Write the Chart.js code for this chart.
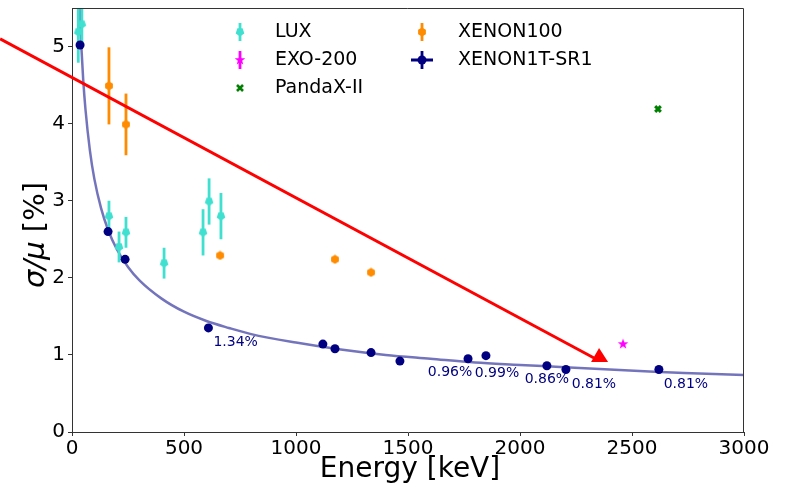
<!DOCTYPE html>
<html>
<head>
<meta charset="utf-8">
<script src="https://cdn.jsdelivr.net/npm/chart.js@4"></script>
<style>
html,body{margin:0;padding:0;background:#fff;}
canvas{display:block;}
</style>
</head>
<body>
<canvas id="c" width="786" height="492"></canvas>
<script>
// ---- data ----
const luxE   = [28, 44, 165, 210, 241, 411, 585, 612, 665];
const luxRes = [5.19, 5.29, 2.80, 2.40, 2.59, 2.19, 2.59, 2.99, 2.80];
const luxErr = [0.40, 0.30, 0.20, 0.20, 0.20, 0.20, 0.30, 0.30, 0.30];

const x100E   = [165, 241, 661, 1174, 1335];
const x100Res = [4.49, 3.99, 2.29, 2.24, 2.07];
const x100Err = [0.50, 0.40, 0.03, 0.03, 0.03];

const exoE   = [2460];
const exoRes = [1.14];

const pandaE   = [2616];
const pandaRes = [4.19];

const x1tE   = [36, 161, 237, 609, 1120, 1174, 1335, 1464, 1768, 1848, 2120, 2205, 2620];
const x1tRes = [5.02, 2.60, 2.24, 1.35, 1.14, 1.08, 1.03, 0.92, 0.95, 0.99, 0.86, 0.81, 0.81];

const fitE   = [33, 35, 40, 50, 60, 80, 100, 130, 160, 200, 250, 300, 400, 500, 600, 700, 800, 1000, 1200, 1400, 1600, 1800, 2000, 2200, 2400, 2600, 2800, 3000];
const fitRes = [5.6, 5.43, 5.09, 4.57, 4.19, 3.65, 3.28, 2.90, 2.63, 2.37, 2.14, 1.97, 1.73, 1.56, 1.44, 1.35, 1.27, 1.16, 1.07, 1.00, 0.95, 0.90, 0.87, 0.84, 0.81, 0.78, 0.76, 0.74];

// labelled XENON1T points (index into x1t arrays) and their texts
const annIdx   = [3, 8, 9, 10, 11, 12];
const annTexts = ["1.34%", "0.96%", "0.99%", "0.86%", "0.81%", "0.81%"];

// red arrow (data coordinates): tail and tip
const arrowTail = [-321, 5.10];
const arrowTip  = [2353, 1.09];

const xTicks = [0, 500, 1000, 1500, 2000, 2500, 3000];
const yTicks = [0, 1, 2, 3, 4, 5];

// ---- styling / layout (not data) ----
const FONT = "'DejaVu Sans', sans-serif";
const annOffsets = [[5, 14, 'left'], [-18, 14, 'center'], [11, 18, 'center'], [0, 14, 'center'], [28, 15, 'center'], [27, 15, 'center']];

function makeMarker(kind, color, size) {
  const c = document.createElement('canvas');
  c.width = size; c.height = size;
  const g = c.getContext('2d');
  g.fillStyle = color;
  const cx = size / 2, cy = size / 2, r = size / 2 - 0.5;
  g.beginPath();
  if (kind === 'pentDown') {
    for (let i = 0; i < 5; i++) {
      const a = Math.PI / 2 + i * 2 * Math.PI / 5;
      const px = cx + r * Math.cos(a), py = cy + r * Math.sin(a);
      i ? g.lineTo(px, py) : g.moveTo(px, py);
    }
  } else if (kind === 'hex') {
    for (let i = 0; i < 6; i++) {
      const a = -Math.PI / 2 + i * Math.PI / 3;
      const px = cx + r * Math.cos(a), py = cy + r * Math.sin(a);
      i ? g.lineTo(px, py) : g.moveTo(px, py);
    }
  } else if (kind === 'star') {
    for (let i = 0; i < 10; i++) {
      const a = -Math.PI / 2 + i * Math.PI / 5;
      const rr = i % 2 ? r * 0.42 : r;
      const px = cx + rr * Math.cos(a), py = cy + rr * Math.sin(a);
      i ? g.lineTo(px, py) : g.moveTo(px, py);
    }
  }
  g.closePath();
  g.fill();
  return c;
}
const COL_LUX = '#40e0d0', COL_X100 = '#ff8c00', COL_EXO = '#ff00ff', COL_PANDA = '#008000', COL_X1T = '#000080';
const mLux = makeMarker('pentDown', COL_LUX, 10);
const mHex = makeMarker('hex', COL_X100, 10);
const mStar = makeMarker('star', COL_EXO, 12);

const pts = (xs, ys) => xs.map((x, i) => ({x: x, y: ys[i]}));

const errorBars = {
  id: 'errorBars',
  beforeDatasetDraw(chart, args) {
    const ds = chart.data.datasets[args.index];
    if (!ds.yErr) return;
    const {ctx, chartArea: a, scales: {x, y}} = chart;
    ctx.save();
    ctx.beginPath(); ctx.rect(a.left, a.top, a.right - a.left, a.bottom - a.top); ctx.clip();
    ctx.strokeStyle = ds.errColor; ctx.lineWidth = 2.8;
    ds.data.forEach((p, i) => {
      const e = ds.yErr[i];
      const px = x.getPixelForValue(p.x);
      ctx.beginPath();
      ctx.moveTo(px, y.getPixelForValue(p.y - e));
      ctx.lineTo(px, y.getPixelForValue(p.y + e));
      ctx.stroke();
    });
    ctx.restore();
  }
};

const decor = {
  id: 'decor',
  afterDraw(chart) {
    const {ctx, chartArea: a, scales: {x, y}} = chart;
    ctx.save();
    // top/right frame
    ctx.strokeStyle = '#333'; ctx.lineWidth = 1;
    ctx.beginPath();
    ctx.moveTo(a.left, a.top + 0.5); ctx.lineTo(a.right - 0.5, a.top + 0.5); ctx.lineTo(a.right - 0.5, a.bottom);
    ctx.stroke();

    // annotations
    ctx.fillStyle = COL_X1T; ctx.font = '14px ' + FONT; ctx.textBaseline = 'middle';
    annIdx.forEach((k, j) => {
      const px = x.getPixelForValue(x1tE[k]), py = y.getPixelForValue(x1tRes[k]);
      const o = annOffsets[j];
      ctx.textAlign = o[2];
      ctx.fillText(annTexts[j], px + o[0], py + o[1]);
    });

    // red arrow
    const tx = x.getPixelForValue(arrowTail[0]), ty = y.getPixelForValue(arrowTail[1]);
    const hx = x.getPixelForValue(arrowTip[0]), hy = y.getPixelForValue(arrowTip[1]);
    ctx.strokeStyle = '#ff0000'; ctx.fillStyle = '#ff0000'; ctx.lineWidth = 3;
    ctx.beginPath(); ctx.moveTo(tx, ty); ctx.lineTo(hx - 5, hy + 10); ctx.stroke();
    ctx.beginPath();
    ctx.moveTo(hx, hy); ctx.lineTo(hx + 9, hy + 14); ctx.lineTo(hx - 8, hy + 14); ctx.closePath();
    ctx.fill();

    // axis titles
    ctx.fillStyle = '#000'; ctx.textAlign = 'center'; ctx.textBaseline = 'middle';
    ctx.font = '28px ' + FONT;
    ctx.fillText('Energy [keV]', (a.left + a.right) / 2 + 2, 470);
    ctx.save();
    ctx.translate(36, (a.top + a.bottom) / 2 + 15);
    ctx.rotate(-Math.PI / 2);
    ctx.font = 'italic 29px ' + FONT;
    const p1 = 'σ/μ', p2 = ' [%]';
    const w1 = ctx.measureText(p1).width;
    ctx.font = '29px ' + FONT;
    const w2 = ctx.measureText(p2).width;
    ctx.textAlign = 'left';
    ctx.font = 'italic 29px ' + FONT;
    ctx.fillText(p1, -(w1 + w2) / 2, 0);
    ctx.font = '29px ' + FONT;
    ctx.fillText(p2, -(w1 + w2) / 2 + w1, 0);
    ctx.restore();

    // legend
    ctx.font = '19px ' + FONT; ctx.textAlign = 'left'; ctx.textBaseline = 'middle';
    const vbar = (mx, my, col) => { ctx.strokeStyle = col; ctx.lineWidth = 2.8; ctx.beginPath(); ctx.moveTo(mx, my - 9); ctx.lineTo(mx, my + 9); ctx.stroke(); };
    // LUX
    vbar(240, 32, COL_LUX); ctx.drawImage(mLux, 235, 27);
    ctx.fillStyle = '#000'; ctx.fillText('LUX', 275, 32);
    // EXO-200
    vbar(240, 60, COL_EXO); ctx.drawImage(mStar, 234, 54);
    ctx.fillStyle = '#000'; ctx.fillText('EXO-200', 275, 60);
    // PandaX-II
    ctx.strokeStyle = COL_PANDA; ctx.lineWidth = 2.6;
    ctx.beginPath(); ctx.moveTo(237, 85); ctx.lineTo(243, 91); ctx.moveTo(243, 85); ctx.lineTo(237, 91); ctx.stroke();
    ctx.fillStyle = '#000'; ctx.fillText('PandaX-II', 275, 88);
    // XENON100
    vbar(422, 32, COL_X100); ctx.drawImage(mHex, 417, 27);
    ctx.fillStyle = '#000'; ctx.fillText('XENON100', 458, 32);
    // XENON1T-SR1
    ctx.strokeStyle = COL_X1T; ctx.lineWidth = 2.8;
    ctx.beginPath(); ctx.moveTo(422, 51); ctx.lineTo(422, 69); ctx.moveTo(411, 60); ctx.lineTo(433, 60); ctx.stroke();
    ctx.fillStyle = COL_X1T; ctx.beginPath(); ctx.arc(422, 60, 4.5, 0, 2 * Math.PI); ctx.fill();
    ctx.fillStyle = '#000'; ctx.fillText('XENON1T-SR1', 458, 60);
    ctx.restore();
  }
};

new Chart(document.getElementById('c'), {
  type: 'scatter',
  data: {
    datasets: [
      {label: 'XENON1T-SR1', data: pts(x1tE, x1tRes), pointStyle: 'circle', pointRadius: 4.5, backgroundColor: COL_X1T, borderWidth: 0, order: 0},
      {label: 'LUX', data: pts(luxE, luxRes), yErr: luxErr, errColor: COL_LUX, pointStyle: mLux, pointRadius: 5, order: 1},
      {label: 'XENON100', data: pts(x100E, x100Res), yErr: x100Err, errColor: COL_X100, pointStyle: mHex, pointRadius: 5, order: 2},
      {label: 'EXO-200', data: pts(exoE, exoRes), pointStyle: mStar, pointRadius: 6, order: 3},
      {label: 'PandaX-II', data: pts(pandaE, pandaRes), pointStyle: 'crossRot', pointRadius: 4, borderColor: COL_PANDA, borderWidth: 3, order: 4},
      {label: 'fit', data: pts(fitE, fitRes), showLine: true, pointRadius: 0, borderColor: 'rgba(70,70,165,0.75)', borderWidth: 2.5, cubicInterpolationMode: 'monotone', clip: 0, order: 5}
    ]
  },
  options: {
    responsive: false,
    animation: false,
    events: [],
    layout: {padding: {top: 8, right: 42, left: 0, bottom: 0}},
    plugins: {legend: {display: false}, tooltip: {enabled: false}},
    scales: {
      x: {
        type: 'linear', min: 0, max: 3000,
        afterBuildTicks: s => { s.ticks = xTicks.map(v => ({value: v})); },
        afterFit: s => { s.height = 60; s.paddingLeft = 0; s.paddingRight = 0; },
        grid: {display: true, drawOnChartArea: false, drawTicks: true, tickLength: 4, color: '#333'},
        border: {display: true, color: '#333', width: 1},
        ticks: {color: '#000', font: {family: FONT, size: 20}, padding: 1, maxRotation: 0, autoSkip: false, callback: v => String(v)}
      },
      y: {
        type: 'linear', min: 0, max: 5.5,
        afterBuildTicks: s => { s.ticks = yTicks.map(v => ({value: v})); },
        afterFit: s => { s.width = 72; s.paddingTop = 0; s.paddingBottom = 0; },
        grid: {display: true, drawOnChartArea: false, drawTicks: true, tickLength: 4, color: '#333'},
        border: {display: true, color: '#333', width: 1},
        ticks: {color: '#000', font: {family: FONT, size: 20}, padding: 3, callback: v => String(v)}
      }
    }
  },
  plugins: [errorBars, decor]
});
</script>
</body>
</html>
